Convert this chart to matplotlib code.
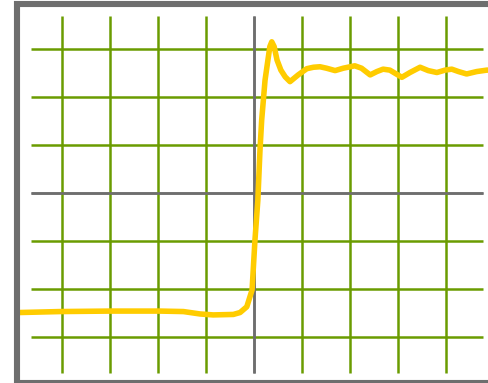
import matplotlib
matplotlib.use("Agg")
import matplotlib.pyplot as plt
from matplotlib.patches import Rectangle

# Grid divisions (in screen divisions relative to centre)
x_divs = [-4, -3, -2, -1, 0, 1, 2, 3, 4]
y_divs = [-3, -2, -1, 0, 1, 2, 3]

# Trace (time in divisions, level in divisions)
trace_t = [-4.875, -4.04, -3.00, -1.96, -1.47, -1.125, -0.85, -0.43, -0.29, -0.15,
           -0.04, 0.02, 0.08, 0.125, 0.16, 0.23, 0.29, 0.33, 0.37, 0.42, 0.48,
           0.56, 0.65, 0.75, 0.92, 1.10, 1.24, 1.375, 1.51, 1.69, 1.86, 2.10,
           2.24, 2.42, 2.56, 2.69, 2.83, 3.08, 3.25, 3.46, 3.63, 3.81, 3.98,
           4.12, 4.26, 4.43, 4.64, 4.85, 4.90]
trace_v = [-2.49, -2.47, -2.46, -2.46, -2.47, -2.52, -2.54, -2.53, -2.49, -2.37,
           -2.02, -0.98, -0.15, 0.90, 1.52, 2.35, 2.77, 3.05, 3.15, 3.05, 2.77,
           2.56, 2.42, 2.32, 2.46, 2.59, 2.62, 2.63, 2.60, 2.55, 2.60, 2.65,
           2.60, 2.46, 2.53, 2.58, 2.56, 2.41, 2.51, 2.62, 2.55, 2.51, 2.56,
           2.58, 2.53, 2.48, 2.53, 2.56, 2.56]

W, H = 489, 383
DIV = 48.0
CX, CY = 254.0, 193.0

fig = plt.figure(figsize=(W / 100, H / 100), dpi=100)
ax = fig.add_axes([0, 0, 1, 1])
ax.set_xlim((0 - CX) / DIV, (W - CX) / DIV)
ax.set_ylim((CY - H) / DIV, (CY - 0) / DIV)
ax.axis("off")

green = "#6a9c00"
gray = "#6e6e6e"

y_lo, y_hi = (CY - 373) / DIV, (CY - 16) / DIV
x_lo, x_hi = (31 - CX) / DIV, (483 - CX) / DIV

for xd in x_divs:
    ax.plot([xd, xd], [y_lo, y_hi], color=gray if xd == 0 else green,
            lw=1.8, solid_capstyle="butt", zorder=2)
for yd in y_divs:
    ax.plot([x_lo, x_hi], [yd, yd], color=gray if yd == 0 else green,
            lw=1.8, solid_capstyle="butt", zorder=1)
ax.plot([0, 0], [y_lo, y_hi], color=gray, lw=1.8, solid_capstyle="butt", zorder=3)
ax.plot([x_lo, x_hi], [0, 0], color=gray, lw=1.8, solid_capstyle="butt", zorder=3)

ax.plot(trace_t, trace_v, color="#ffcc00", lw=4.0, solid_capstyle="round",
        solid_joinstyle="round", zorder=5)

# Outer frame
fx0, fy0 = 17 / W, 1 - 383 / H
rect = Rectangle((fx0, fy0), 1.2, (383 - 4) / H, transform=ax.transAxes,
                 fill=False, edgecolor=gray, lw=4.4, clip_on=False, zorder=6)
ax.add_patch(rect)

fig.savefig("out.png", dpi=100)
